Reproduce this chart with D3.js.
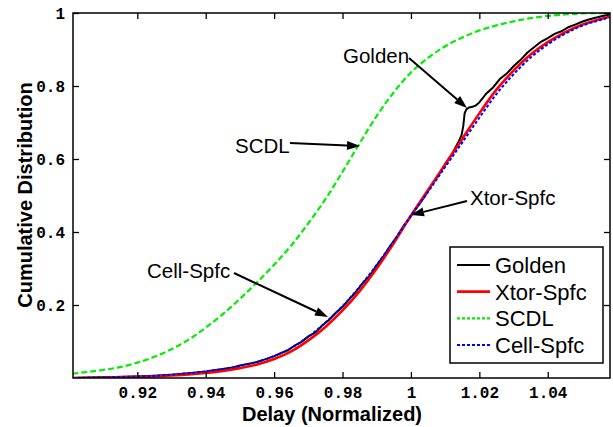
<!DOCTYPE html>
<html><head><meta charset="utf-8">
<script src="https://cdn.jsdelivr.net/npm/d3@7"></script>
<style>body{margin:0;background:#fff}svg{display:block}</style>
</head><body>
<svg id="c" width="613" height="427"></svg>
<script>
// ---- data ----
const xTicks = [0.92, 0.94, 0.96, 0.98, 1.00, 1.02, 1.04];
const xTickLabels = ["0.92", "0.94", "0.96", "0.98", "1", "1.02", "1.04"];
const yTicks = [0.2, 0.4, 0.6, 0.8, 1.0];
const yTickLabels = ["0.2", "0.4", "0.6", "0.8", "1"];
const seriesNames = ["Golden", "Xtor-Spfc", "SCDL", "Cell-Spfc"];

const goldenX = [0.901,0.91,0.92,0.925,0.93,0.935,0.94,0.945,0.948,0.95,0.953,0.955,0.958,0.96,0.962,0.964,0.966,0.968,0.97,0.972,0.974,0.976,0.978,0.98,0.982,0.984,0.986,0.988,0.99,0.992,0.994,0.996,0.998,0.9995,1.0,1.0005,1.002,1.004,1.006,1.008,1.01,1.012,1.014,1.0148,1.0153,1.0157,1.0162,1.017,1.018,1.019,1.02,1.022,1.024,1.026,1.028,1.03,1.032,1.034,1.036,1.038,1.04,1.042,1.044,1.046,1.048,1.05,1.052,1.054,1.056,1.058];
const goldenY = [0,0.002,0.004,0.006,0.009,0.013,0.018,0.025,0.029,0.034,0.040,0.044,0.053,0.060,0.068,0.076,0.089,0.099,0.114,0.124,0.143,0.159,0.178,0.195,0.216,0.237,0.261,0.281,0.309,0.334,0.363,0.389,0.419,0.436,0.443,0.450,0.470,0.497,0.528,0.555,0.586,0.614,0.649,0.665,0.690,0.725,0.736,0.741,0.743,0.747,0.755,0.779,0.796,0.819,0.834,0.854,0.871,0.891,0.906,0.921,0.931,0.943,0.950,0.961,0.968,0.976,0.982,0.987,0.992,0.995];

const xtorX = [0.901,0.91,0.92,0.93,0.94,0.95,0.955,0.96,0.965,0.97,0.975,0.98,0.985,0.99,0.995,1.0,1.005,1.01,1.015,1.02,1.025,1.03,1.035,1.04,1.045,1.05,1.055,1.058];
const xtorY = [0,0.001,0.003,0.007,0.014,0.027,0.037,0.052,0.073,0.103,0.140,0.185,0.238,0.300,0.370,0.445,0.515,0.585,0.655,0.725,0.790,0.842,0.886,0.920,0.947,0.968,0.982,0.990];

const scdlX = [0.901,0.905,0.91,0.915,0.92,0.925,0.93,0.935,0.94,0.945,0.95,0.955,0.96,0.965,0.97,0.975,0.98,0.985,0.99,0.995,1.0,1.005,1.01,1.015,1.02,1.025,1.03,1.035,1.04,1.045,1.05,1.058];
const scdlY = [0.012,0.016,0.022,0.030,0.042,0.058,0.079,0.105,0.138,0.175,0.217,0.262,0.310,0.363,0.424,0.490,0.565,0.643,0.718,0.783,0.837,0.877,0.909,0.933,0.952,0.966,0.977,0.986,0.992,0.996,0.999,1.0];

const cellX = [0.901,0.91,0.92,0.93,0.94,0.95,0.955,0.96,0.965,0.97,0.975,0.98,0.985,0.99,0.995,1.0,1.005,1.01,1.015,1.02,1.025,1.03,1.035,1.04,1.045,1.05,1.055,1.058];
const cellY = [0,0.002,0.004,0.009,0.018,0.033,0.044,0.060,0.082,0.113,0.152,0.197,0.250,0.310,0.375,0.445,0.510,0.578,0.645,0.713,0.778,0.832,0.878,0.914,0.943,0.965,0.980,0.988];

// ---- layout ----
const L = 73, R = 610, T = 13, B = 378;
const svg = d3.select("#c");
const x = d3.scaleLinear().domain([0.9012, 1.0582]).range([L, R]);
const y = d3.scaleLinear().domain([0, 1]).range([B, T]);

svg.append("defs").append("clipPath").attr("id","clip")
  .append("rect").attr("x",L).attr("y",T).attr("width",R-L).attr("height",B-T);

const zip = (xs, ys) => xs.map((v,i)=>[v, ys[i]]);
const line = d3.line().x(d=>x(d[0])).y(d=>y(d[1]));
const smooth = d3.line().x(d=>x(d[0])).y(d=>y(d[1])).curve(d3.curveMonotoneX);

const g = svg.append("g").attr("clip-path","url(#clip)");
g.append("path").attr("d", line(zip(goldenX, goldenY))).attr("fill","none").attr("stroke","#000").attr("stroke-width",2);
g.append("path").attr("d", smooth(zip(xtorX, xtorY))).attr("fill","none").attr("stroke","#ff0000").attr("stroke-width",2.6);
g.append("path").attr("d", smooth(zip(scdlX, scdlY))).attr("fill","none").attr("stroke","#00ee00").attr("stroke-width",2.2).attr("stroke-dasharray","6,3");
g.append("path").attr("d", smooth(zip(cellX, cellY))).attr("fill","none").attr("stroke","#0000ff").attr("stroke-width",2).attr("stroke-dasharray","3,2");

// ---- axes (ticks inside, all four sides) ----
const tickFont = "'Liberation Mono', 'Courier New', monospace";
const axB = d3.axisBottom(x).tickValues(xTicks).tickSize(-6).tickPadding(9).tickFormat((d,i)=>xTickLabels[i]);
const axT = d3.axisTop(x).tickValues(xTicks).tickSize(-6).tickFormat("");
const axL = d3.axisLeft(y).tickValues(yTicks).tickSize(-6).tickPadding(8).tickFormat((d,i)=>yTickLabels[i]);
const axR = d3.axisRight(y).tickValues(yTicks).tickSize(-6).tickFormat("");
function style(sel){
  sel.select(".domain").remove();
  sel.selectAll(".tick line").attr("stroke","#000").attr("stroke-width",1.3);
  sel.selectAll(".tick text").attr("fill","#000").style("font-family",tickFont).style("font-weight","bold").style("font-size","16px");
}
svg.append("g").attr("transform",`translate(0,${B})`).call(axB).call(style);
svg.append("g").attr("transform",`translate(0,${T})`).call(axT).call(style);
svg.append("g").attr("transform",`translate(${L},0)`).call(axL).call(style);
svg.append("g").attr("transform",`translate(${R},0)`).call(axR).call(style);
svg.append("rect").attr("x",L).attr("y",T).attr("width",R-L).attr("height",B-T)
  .attr("fill","none").attr("stroke","#000").attr("stroke-width",1.5);

// ---- axis titles ----
const sans = "'Liberation Sans', Arial, Helvetica, sans-serif";
svg.append("text").attr("x",332).attr("y",421).attr("text-anchor","middle")
  .style("font-family",sans).style("font-weight","bold").style("font-size","20px").text("Delay (Normalized)");
svg.append("text").attr("transform","translate(32,195) rotate(-90)").attr("text-anchor","middle")
  .style("font-family",sans).style("font-weight","bold").style("font-size","20px").text("Cumulative Distribution");

// ---- annotations ----
const ann = [
  {t:"Golden", tx:343, ty:63, x1:409, y1:58, x2:467, y2:108},
  {t:"SCDL", tx:235, ty:153, x1:290, y1:143, x2:360, y2:146},
  {t:"Xtor-Spfc", tx:470, ty:205, x1:467, y1:201, x2:411, y2:215},
  {t:"Cell-Spfc", tx:147, ty:278, x1:234, y1:273, x2:328, y2:317}
];
ann.forEach(a=>{
  svg.append("text").attr("x",a.tx).attr("y",a.ty).style("font-family",sans).style("font-size","20.5px").text(a.t);
  const ang = Math.atan2(a.y2-a.y1, a.x2-a.x1);
  const hl = 13, hw = 4.5;
  const bx = a.x2 - hl*Math.cos(ang), by = a.y2 - hl*Math.sin(ang);
  svg.append("line").attr("x1",a.x1).attr("y1",a.y1).attr("x2",bx).attr("y2",by).attr("stroke","#000").attr("stroke-width",2);
  const px = -Math.sin(ang)*hw, py = Math.cos(ang)*hw;
  svg.append("path").attr("d",`M${a.x2},${a.y2}L${bx+px},${by+py}L${bx-px},${by-py}Z`).attr("fill","#000");
});

// ---- legend ----
const lg = svg.append("g");
lg.append("rect").attr("x",450).attr("y",247).attr("width",153).attr("height",116)
  .attr("fill","#fff").attr("stroke","#000").attr("stroke-width",1.5);
const legStyles = [
  {c:"#000", w:2, d:null},
  {c:"#ff0000", w:2.6, d:null},
  {c:"#00ee00", w:2.2, d:"3,2"},
  {c:"#0000ff", w:2.2, d:"3,2"}
];
const ly = d3.scalePoint().domain(seriesNames).range([265, 345]);
seriesNames.forEach((n,i)=>{
  const yy = ly(n);
  const s = legStyles[i];
  const l = lg.append("line").attr("x1",457).attr("x2",490).attr("y1",yy).attr("y2",yy)
    .attr("stroke",s.c).attr("stroke-width",s.w);
  if (s.d) l.attr("stroke-dasharray", s.d);
  lg.append("text").attr("x",495).attr("y",yy+8).style("font-family",sans).style("font-size","22px").text(n);
});
</script>
</body></html>
